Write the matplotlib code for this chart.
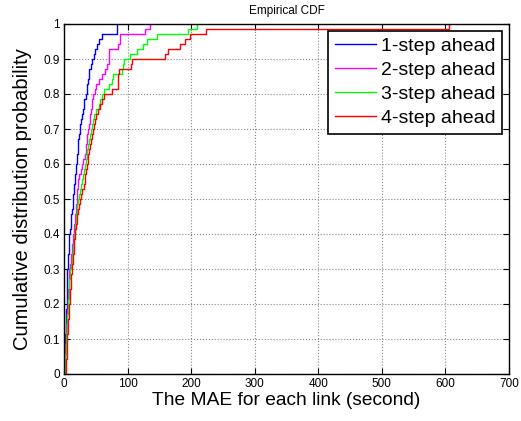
import numpy as np
import matplotlib
matplotlib.use("Agg")
import matplotlib.pyplot as plt

# MAE per link (seconds), read from the empirical CDF steps (70 links)
mae_1step = [0.3, 0.5, 0.8, 1.0, 1.2, 1.4, 1.6, 2.0, 2.5, 3.0,
             3.3, 3.6, 3.9, 4.1, 4.3, 4.5, 4.7, 4.8, 5.0, 5.1,
             5.3, 5.8, 6.3, 6.8, 7.2, 7.6, 8.1, 8.6, 9.5, 10.3,
             11.0, 11.7, 12.5, 13.4, 14.1, 14.8, 15.5, 16.2, 17.2, 18.0,
             18.8, 19.6, 20.3, 21.0, 21.5, 22.1, 22.6, 23.7, 24.6, 25.8,
             27.4, 28.8, 30.0, 31.0, 31.8, 34.0, 35.5, 36.6, 38.0, 38.9,
             40.0, 42.0, 44.5, 46.5, 49.0, 51.5, 55.0, 59.0, 83.0, 83.5]
mae_2step = [0.3, 0.6, 0.9, 1.2, 1.6, 2.0, 2.4, 2.8, 3.3, 3.8,
             4.3, 4.8, 5.3, 5.7, 6.0, 6.4, 6.8, 7.2, 7.6, 8.0,
             8.5, 9.5, 10.5, 11.5, 12.2, 13.0, 13.8, 14.6, 15.3, 16.0,
             16.8, 17.6, 18.5, 19.4, 20.0, 20.6, 21.2, 21.8, 22.5, 24.0,
             26.0, 28.0, 30.0, 33.0, 34.0, 35.0, 35.8, 36.5, 37.5, 39.0,
             40.5, 41.5, 42.5, 43.5, 44.0, 46.0, 49.0, 51.0, 55.0, 60.0,
             64.5, 67.0, 70.0, 71.0, 71.5, 85.0, 88.0, 88.5, 127.0, 135.0]
mae_3step = [0.8, 1.2, 1.6, 2.0, 2.4, 2.8, 3.2, 3.6, 4.0, 4.5,
             5.0, 5.5, 6.0, 6.5, 7.0, 7.3, 7.6, 8.0, 8.4, 9.2,
             10.2, 11.0, 12.0, 13.0, 13.8, 14.6, 15.3, 16.0, 16.8, 17.5,
             18.2, 19.0, 19.8, 20.6, 21.5, 23.0, 25.0, 27.0, 28.5, 29.5,
             31.0, 33.0, 34.5, 35.6, 36.5, 38.0, 39.5, 41.0, 42.5, 44.0,
             45.5, 47.0, 51.0, 55.0, 57.0, 60.0, 62.6, 70.0, 75.0, 77.6,
             90.7, 93.0, 95.0, 104.0, 115.0, 124.0, 131.0, 146.0, 195.5, 208.6]
mae_4step = [3.0, 3.3, 3.6, 4.0, 4.3, 4.7, 5.0, 5.5, 6.0, 6.5,
             7.0, 7.5, 8.0, 8.4, 9.0, 9.5, 10.0, 10.5, 11.0, 11.5,
             12.0, 12.8, 13.6, 14.5, 15.2, 15.8, 16.4, 17.0, 17.8, 18.8,
             20.0, 21.0, 22.3, 23.5, 25.0, 27.0, 29.0, 31.0, 32.5, 33.5,
             34.5, 35.6, 37.0, 38.5, 40.0, 41.5, 43.0, 44.5, 46.0, 47.5,
             49.0, 50.5, 54.0, 57.0, 60.0, 62.6, 75.0, 85.0, 85.3, 85.6,
             86.0, 106.0, 106.5, 159.0, 164.0, 182.0, 190.0, 198.0, 223.0, 605.0]

series_labels = ["1-step ahead", "2-step ahead", "3-step ahead", "4-step ahead"]
series_colors = ["#0000FF", "#FF00FF", "#00FF00", "#FF0000"]
x_ticks = [0, 100, 200, 300, 400, 500, 600, 700]
y_ticks = [0, 0.1, 0.2, 0.3, 0.4, 0.5, 0.6, 0.7, 0.8, 0.9, 1]
y_tick_labels = ["0", "0.1", "0.2", "0.3", "0.4", "0.5", "0.6", "0.7", "0.8", "0.9", "1"]

plt.rcParams['font.family'] = ['Liberation Sans', 'DejaVu Sans']

fig = plt.figure(figsize=(5.21, 4.21), dpi=100)
ax = fig.add_axes([64/521, 1 - 374/421, 445/521, 350/421])

for data, lab, col in zip([mae_1step, mae_2step, mae_3step, mae_4step], series_labels, series_colors):
    xs = np.sort(np.asarray(data, dtype=float))
    n = len(xs)
    ys = np.arange(1, n + 1) / n
    ax.step(np.concatenate([xs[:1], xs]), np.concatenate([[0.0], ys]),
            where='post', color=col, lw=1.0, label=lab)

ax.set_xlim(0, 700)
ax.set_ylim(0, 1)
ax.set_xticks(x_ticks)
ax.set_xticklabels([str(t) for t in x_ticks])
ax.set_yticks(y_ticks)
ax.set_yticklabels(y_tick_labels)
ax.tick_params(direction='in', length=4, width=0.8, top=True, right=True,
               labelsize=8.5, pad=3, colors='black')
ax.grid(True, linestyle=':', color='#888888', linewidth=0.8)
for s in ax.spines.values():
    s.set_linewidth(1.0)
    s.set_color('black')

ax.set_title("Empirical CDF", fontsize=8.5, pad=7)
ax.set_xlabel("The MAE for each link (second)", fontsize=13.8, labelpad=1)
ax.set_ylabel("Cumulative distribution probability", fontsize=14.5, labelpad=8)

leg = ax.legend(loc='upper right', bbox_to_anchor=(1, 1), borderaxespad=0.35,
                fontsize=14, handlelength=2.1, handletextpad=0.25,
                labelspacing=0.33, borderpad=0.35, fancybox=False,
                framealpha=1, edgecolor='black')
leg.get_frame().set_linewidth(1.2)

fig.savefig("out.png", dpi=100)
